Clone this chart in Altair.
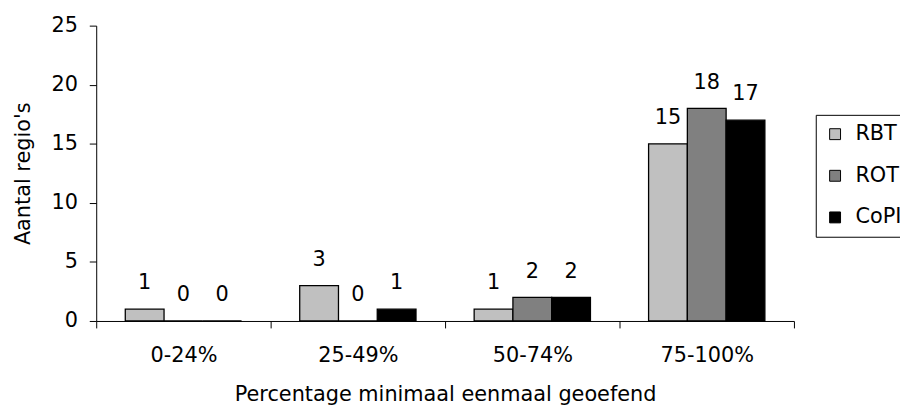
import altair as alt
import pandas as pd

categories = ["0-24%", "25-49%", "50-74%", "75-100%"]
series = ["RBT", "ROT", "CoPI"]
rbt = [1, 3, 1, 15]
rot = [0, 0, 2, 18]
copi = [0, 1, 2, 17]
colors = ["#C0C0C0", "#808080", "#000000"]

rows = []
for s, vals in zip(series, [rbt, rot, copi]):
    for c, v in zip(categories, vals):
        rows.append({"cat": c, "series": s, "value": v})
df = pd.DataFrame(rows)

FONT = "DejaVu Sans"
FS = 21

x = alt.X("cat:N", sort=categories,
          scale=alt.Scale(paddingInner=0, paddingOuter=0),
          axis=alt.Axis(title="Percentage minimaal eenmaal geoefend", tickBand="extent",
                        labelAngle=0, tickSize=7, labelPadding=17, domainColor="black",
                        tickColor="black", labelColor="black", titleColor="black",
                        labelFont=FONT, labelFontSize=FS, titleFont=FONT, titleFontSize=FS,
                        titleFontWeight="normal", titleBaseline="alphabetic", titleY=80))
xo = alt.XOffset("series:N", sort=series,
                 scale=alt.Scale(paddingInner=0, paddingOuter=0.75))
y = alt.Y("value:Q", stack=None,
          scale=alt.Scale(domain=[0, 25], nice=False),
          axis=alt.Axis(title="Aantal regio's", values=[0, 5, 10, 15, 20, 25], grid=False,
                        tickSize=7, labelPadding=12, domainColor="black", tickColor="black",
                        labelColor="black", titleColor="black", labelFont=FONT, labelFontSize=FS,
                        titleFont=FONT, titleFontSize=FS, titleFontWeight="normal",
                        titleBaseline="alphabetic", titleX=-67))

color = alt.Color("series:N", sort=series,
                  scale=alt.Scale(domain=series, range=colors),
                  legend=alt.Legend(title=None, orient="none", legendX=726, legendY=90,
                                    strokeColor="black", padding=9, rowPadding=20,
                                    symbolType="square", symbolSize=121,
                                    symbolStrokeColor="black", symbolStrokeWidth=1,
                                    symbolOpacity=1, labelOffset=10,
                                    labelFont=FONT, labelFontSize=FS, labelColor="black"))

bars = alt.Chart(df).mark_bar(stroke="black", strokeWidth=1.3, opacity=1).encode(
    x=x, xOffset=xo, y=y, color=color)

labels = alt.Chart(df).mark_text(baseline="alphabetic", dy=-20, font=FONT, fontSize=FS,
                                  color="black").encode(
    x=alt.X("cat:N", sort=categories), xOffset=alt.XOffset("series:N", sort=series),
    y=alt.Y("value:Q", stack=None), text="value:Q")

chart = alt.layer(bars, labels).properties(
    width=704, height=298,
    autosize=alt.AutoSizeParams(type="none"),
    padding={"left": 89, "top": 16, "right": 107, "bottom": 86},
    background="white",
).configure_view(stroke=None)

chart.save("out.html", embed_options={"renderer": "svg", "actions": False})
